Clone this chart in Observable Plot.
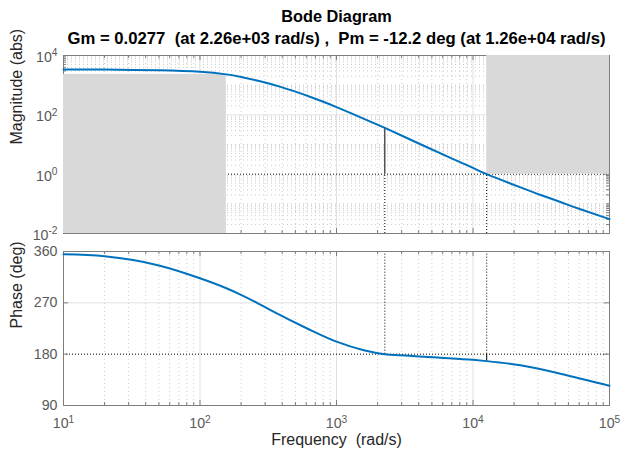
<!DOCTYPE html>
<html><head><meta charset="utf-8">
<script src="https://cdn.jsdelivr.net/npm/d3@7"></script>
<script src="https://cdn.jsdelivr.net/npm/@observablehq/plot@0.6"></script>
<style>
body{margin:0;background:#fff;}
#chart{position:relative;width:621px;height:455px;background:#fff;font-family:"Liberation Sans",Arial,sans-serif;}
#chart svg{position:absolute;left:0;}
#chart text{white-space:pre;}
</style></head><body><div id="chart"></div>
<script>
// ---- texts ----
const titleText = "Bode Diagram";
const subtitleText = "Gm = 0.0277  (at 2.26e+03 rad/s) ,  Pm = -12.2 deg (at 1.26e+04 rad/s)";
const xLabel = "Frequency  (rad/s)";
const magLabel = "Magnitude (abs)";
const phaseLabel = "Phase (deg)";

// ---- data ----
const magFreq  = [10, 20, 50, 100, 156, 200, 300, 389, 500, 646, 800, 1000, 1500, 2260, 4120, 6840, 10000, 12600, 22300, 31300, 43700, 61200, 100000];
const magValue = [3390, 3350, 3160, 2820, 2310, 1880, 1230, 877, 605, 400, 275, 182, 82.6, 36.1, 10.2, 3.52, 1.62, 1.0, 0.358, 0.199, 0.115, 0.0655, 0.0305];

const phaseFreq  = [10, 20, 50, 100, 156, 198, 262, 348, 610, 1000, 1585, 2260, 2940, 5780, 10000, 12600, 22300, 43700, 100000];
const phaseValue = [355, 351.5, 335.5, 313, 295.5, 284.5, 270, 254, 225, 202, 187, 180, 178, 173.9, 170.1, 167.8, 160.4, 145.8, 124.5];

// tick values
const freqTicks  = [1e1, 1e2, 1e3, 1e4, 1e5];
const magTicks   = [1e-2, 1e0, 1e2, 1e4];
const phaseTicks = [90, 180, 270, 360];

// stability margins
const gmFreq = [2260];   const gmMag = [36.1];
const pmFreq = [12600];  const pmPhase = [167.8];
const crossFreqs = [2260, 12600];
const unityMag = [1];
const phase180 = [180];

// shaded requirement regions
const patchX1 = [10, 12600];
const patchX2 = [156, 100000];
const patchY1 = [0.01, 1];
const patchY2 = [2310, 10000];

// ---- minor ticks ----
function minorOf(lo, hi) { const out = []; for (let e = lo; e < hi; e++) for (let k = 2; k <= 9; k++) out.push(+(k * Math.pow(10, e)).toPrecision(3)); return out; }
const xMinor = minorOf(1, 5);
const magMinor = minorOf(-2, 4).concat([1e-1, 1e1, 1e3]);

// ---- layout ----
const W = 621, ML = 63, MR = 12, FW = W - ML - MR;
const H1 = 240, MT1 = 55, MB1 = 7, FH1 = H1 - MT1 - MB1;
const H2 = 215, MT2 = 11, MB2 = 50, FH2 = H2 - MT2 - MB2;
const TOP2 = 240;
const MAJ = 5, MIN = 3;

const frameColor = "#7d7d7d";
const gridMajor = {stroke: "#e1e1e1", strokeWidth: 1};
const gridMinor = {stroke: "#cdcdcd", strokeWidth: 1, strokeDasharray: "1,3"};
const dotted = {stroke: "#000", strokeWidth: 1, strokeDasharray: "1,2"};
const curveStyle = {stroke: "#0072bd", strokeWidth: 2, curve: "natural"};
const tickStyle = {stroke: frameColor, strokeWidth: 1};
const font = '"Liberation Sans", Arial, Helvetica, sans-serif';
const tickFont = {fontSize: 14.2, fill: "#595959"};
const labelFont = {fontSize: 16, fill: "#262626"};
const titleFont = {fontWeight: "bold", fill: "#000"};
const expLabel = d => "10^" + Math.round(Math.log10(d));

function xTicks(FH) {
  return [
    Plot.ruleX(freqTicks, {x: d => d, insetBottom: FH - MAJ, ...tickStyle}),
    Plot.ruleX(freqTicks, {x: d => d, insetTop: FH - MAJ, ...tickStyle}),
    Plot.ruleX(xMinor, {x: d => d, insetBottom: FH - MIN, ...tickStyle}),
    Plot.ruleX(xMinor, {x: d => d, insetTop: FH - MIN, ...tickStyle})
  ];
}
function yTicks(vals, len) {
  return [
    Plot.ruleY(vals, {y: d => d, insetRight: FW - len, ...tickStyle}),
    Plot.ruleY(vals, {y: d => d, insetLeft: FW - len, ...tickStyle})
  ];
}

const common = {
  width: W, marginLeft: ML, marginRight: MR,
  style: {background: "transparent", overflow: "visible", fontFamily: font}
};

// ---- magnitude panel ----
const mag = Plot.plot({
  ...common, height: H1, marginTop: MT1, marginBottom: MB1,
  x: {type: "log", domain: [10, 1e5], axis: null},
  y: {type: "log", domain: [1e-2, 1e4], axis: null},
  marks: [
    Plot.ruleX(xMinor, {x: d => d, ...gridMinor}),
    Plot.ruleY(magMinor, {y: d => d, ...gridMinor}),
    Plot.ruleX(freqTicks, {x: d => d, ...gridMajor}),
    Plot.ruleY(magTicks.filter(d => d !== 1), {y: d => d, ...gridMajor}),
    Plot.ruleY(unityMag, {y: d => d, ...dotted}),
    Plot.ruleX(crossFreqs, {x: d => d, y1: 0.01, y2: 1, ...dotted}),
    Plot.frame({stroke: frameColor}),
    ...xTicks(FH1),
    ...yTicks(magTicks, MAJ),
    ...yTicks(magMinor, MIN),
    Plot.rect(patchX1, {x1: (d, i) => patchX1[i], x2: (d, i) => patchX2[i], y1: (d, i) => patchY1[i], y2: (d, i) => patchY2[i], fill: "#d9d9d9"}),
    Plot.ruleX(gmFreq, {x: d => d, y1: 1, y2: (d, i) => gmMag[i], stroke: "#000", strokeWidth: 1}),
    Plot.line(magFreq, {x: d => d, y: (d, i) => magValue[i], ...curveStyle}),
    Plot.text(magTicks, {y: d => d, frameAnchor: "left", textAnchor: "end", dx: -6, dy: 2, text: expLabel, ...tickFont}),
    Plot.text([titleText], {frameAnchor: "top", dy: -45.5, text: d => d, fontSize: 16.3, ...titleFont}),
    Plot.text([subtitleText], {frameAnchor: "top", dy: -23.5, text: d => d, fontSize: 16.7, ...titleFont}),
    Plot.text([magLabel], {frameAnchor: "left", rotate: -90, dx: -46.5, text: d => d, ...labelFont})
  ]
});

// ---- phase panel ----
const phase = Plot.plot({
  ...common, height: H2, marginTop: MT2, marginBottom: MB2,
  x: {type: "log", domain: [10, 1e5], axis: null},
  y: {type: "linear", domain: [90, 360], axis: null},
  marks: [
    Plot.ruleX(xMinor, {x: d => d, ...gridMinor}),
    Plot.ruleX(freqTicks, {x: d => d, ...gridMajor}),
    Plot.ruleY(phaseTicks.filter(d => d !== 180), {y: d => d, ...gridMajor}),
    Plot.ruleY(phase180, {y: d => d, ...dotted}),
    Plot.ruleX(crossFreqs, {x: d => d, y1: 180, y2: 360, ...dotted}),
    Plot.frame({stroke: frameColor}),
    ...xTicks(FH2),
    ...yTicks(phaseTicks, MAJ),
    Plot.ruleX(pmFreq, {x: d => d, y1: 180, y2: (d, i) => pmPhase[i], stroke: "#000", strokeWidth: 1}),
    Plot.line(phaseFreq, {x: d => d, y: (d, i) => phaseValue[i], ...curveStyle, curve: "monotone-x"}),
    Plot.text(phaseTicks, {y: d => d, frameAnchor: "left", textAnchor: "end", dx: -6, text: d => String(d), ...tickFont}),
    Plot.text(freqTicks, {x: d => d, frameAnchor: "bottom", dy: 22.7, text: expLabel, ...tickFont}),
    Plot.text([xLabel], {frameAnchor: "bottom", dy: 39.5, text: d => d, ...labelFont}),
    Plot.text([phaseLabel], {frameAnchor: "left", rotate: -90, dx: -46.5, text: d => d, ...labelFont})
  ]
});

// superscript exponents in "10^n" labels
function superscripts(svg) {
  svg.querySelectorAll("text").forEach(t => {
    const m = /^10\^(-?\d+)$/.exec(t.textContent);
    if (!m) return;
    t.textContent = "";
    const ns = "http://www.w3.org/2000/svg";
    const a = document.createElementNS(ns, "tspan"); a.textContent = "10";
    const b = document.createElementNS(ns, "tspan"); b.textContent = m[1];
    b.setAttribute("dy", "-0.55em"); b.setAttribute("font-size", "0.72em");
    t.append(a, b);
  });
}
superscripts(mag); superscripts(phase);

const chart = document.getElementById("chart");
mag.style.top = "0px";
phase.style.top = TOP2 + "px";
chart.append(mag, phase);
</script></body></html>
